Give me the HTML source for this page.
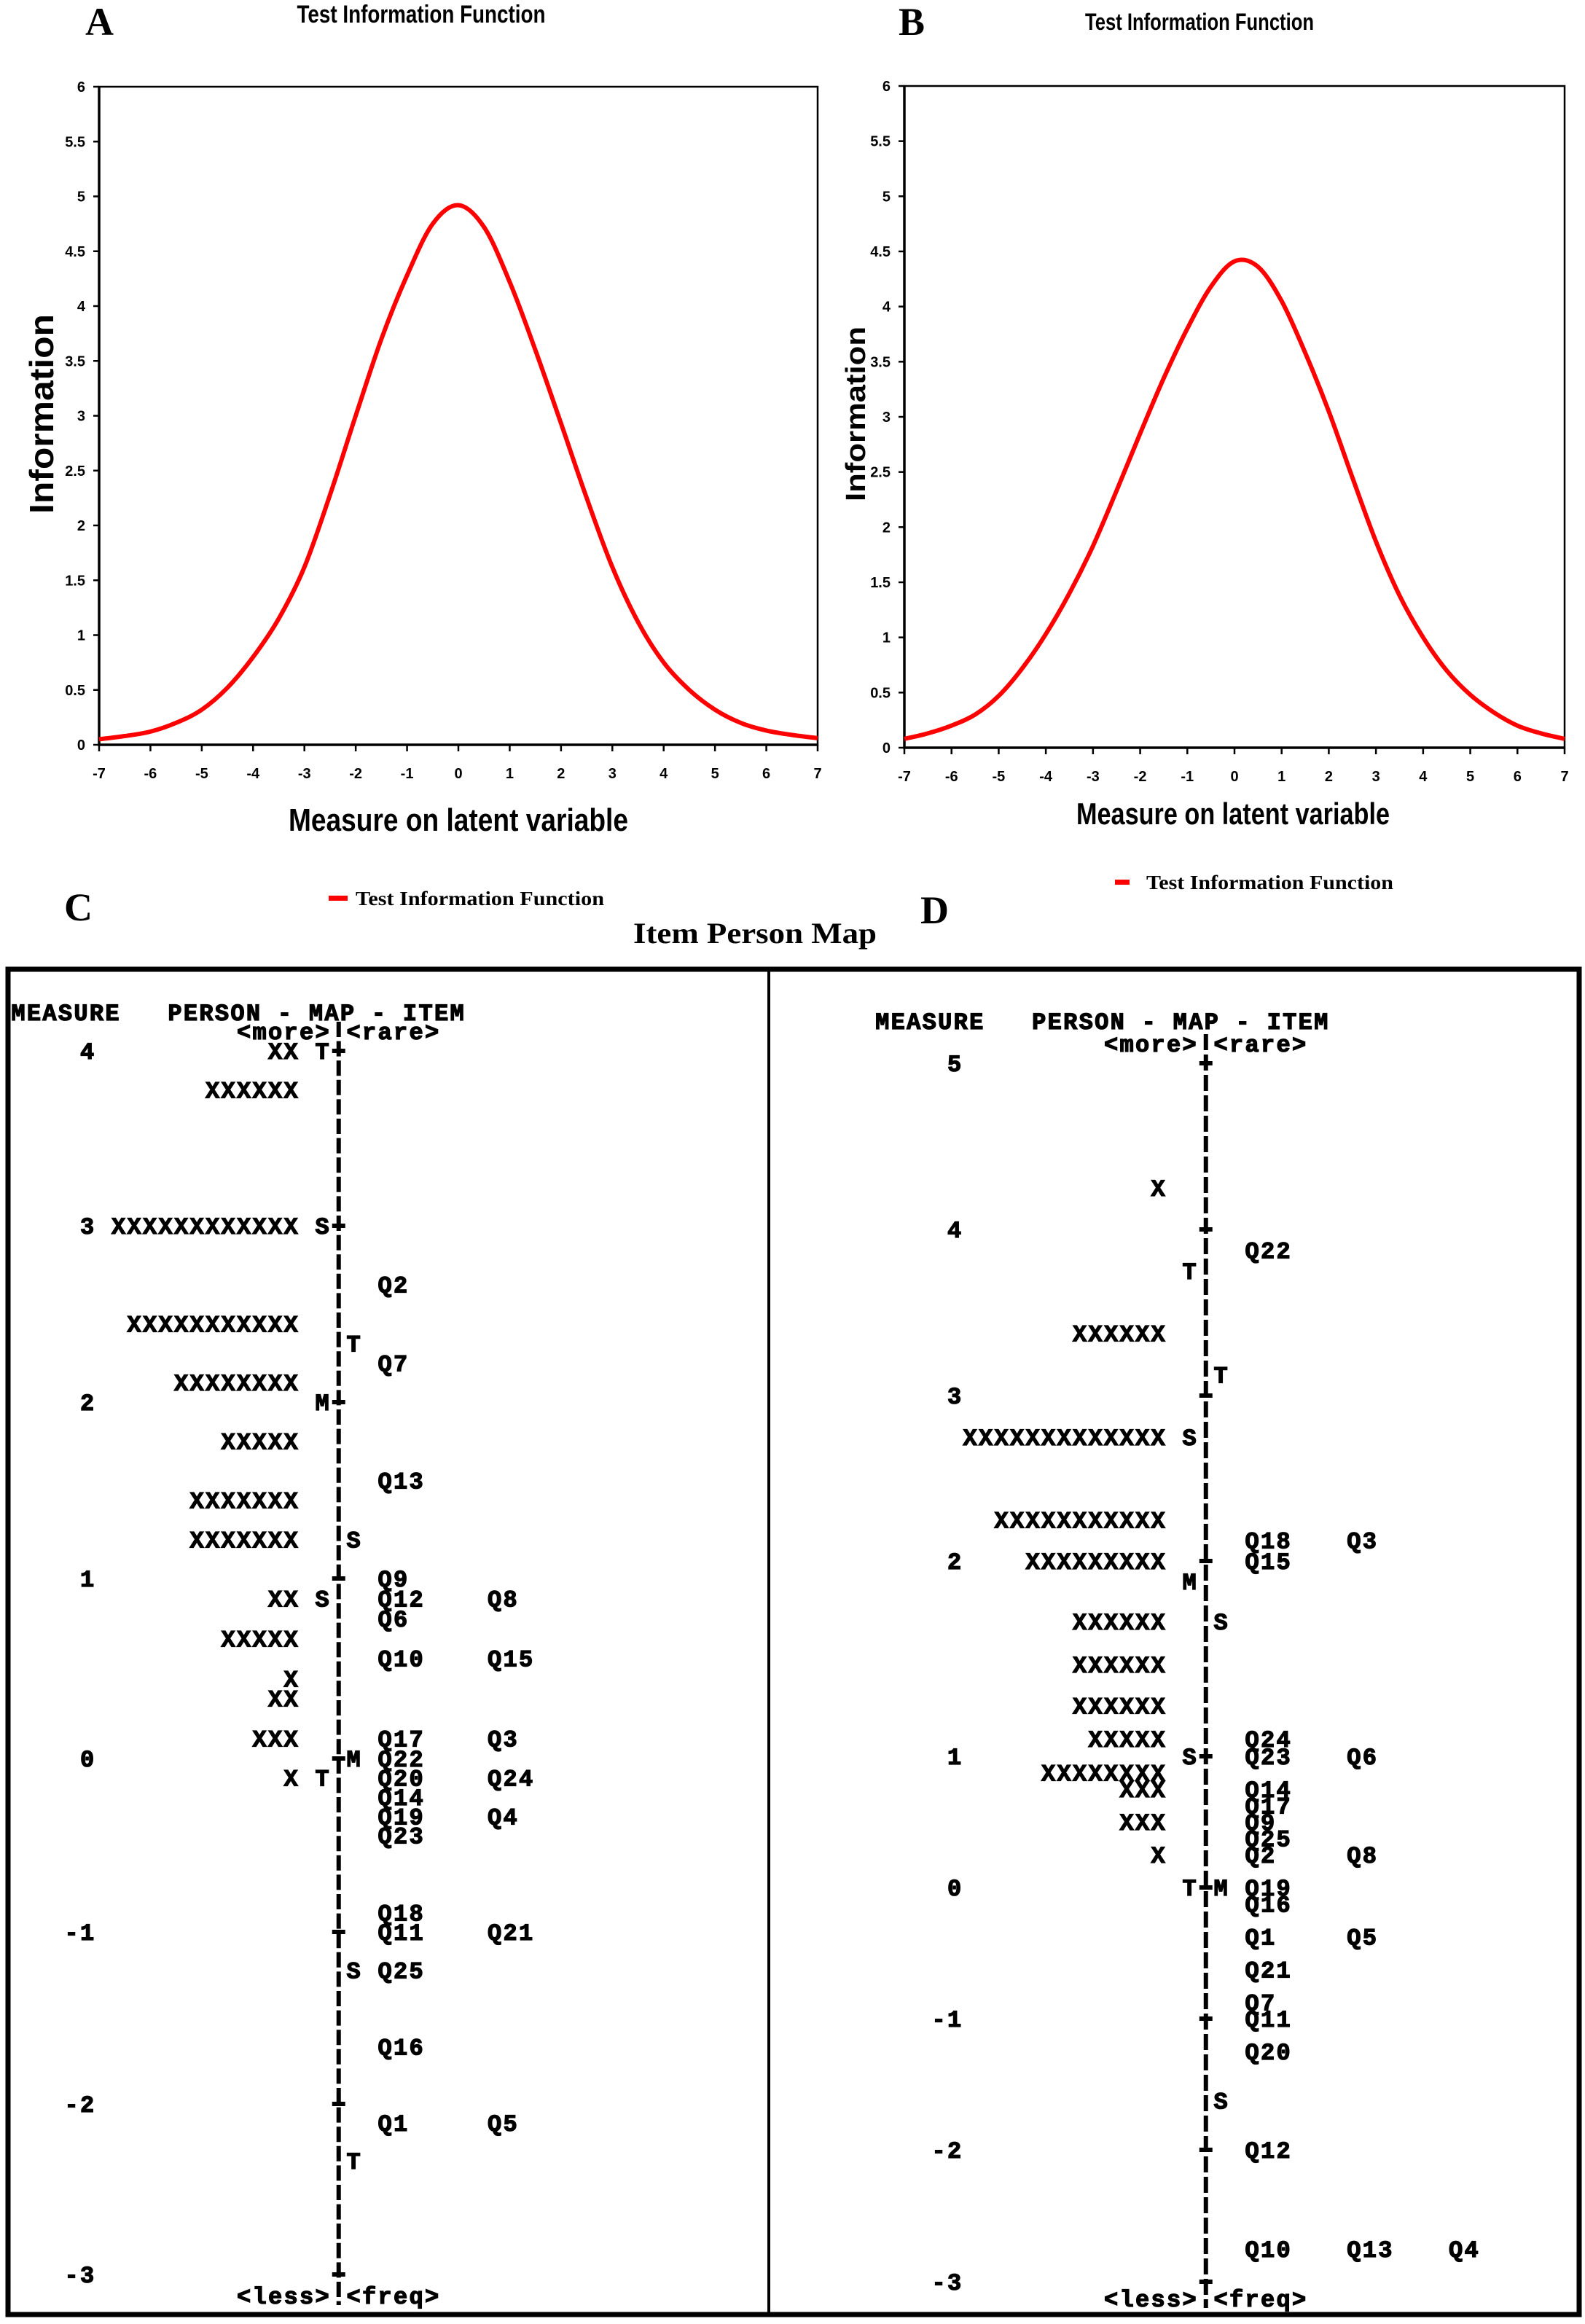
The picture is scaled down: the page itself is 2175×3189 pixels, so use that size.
<!DOCTYPE html>
<html><head><meta charset="utf-8"><title>Test Information Function and Item Person Map</title>
<style>
html,body{margin:0;padding:0;background:#fff;}
svg{display:block;}
.tick{font-family:"Liberation Sans",Arial,sans-serif;font-weight:bold;font-size:20px;fill:#000;}
.ttl{font-family:"Liberation Sans",Arial,sans-serif;font-weight:bold;fill:#000;}
.serif{font-family:"Liberation Serif","Times New Roman",serif;font-weight:bold;fill:#000;}
.mono{font-family:"Liberation Mono","DejaVu Sans Mono",monospace;font-weight:bold;font-size:32px;fill:#000;stroke:#000;stroke-width:1.3px;letter-spacing:2.3px;}
</style></head>
<body>
<svg id="root" width="2175" height="3189" viewBox="0 0 2175 3189" xmlns="http://www.w3.org/2000/svg">
  <rect x="0" y="0" width="2175" height="3189" fill="#fff"/>
  <text class="serif" x="117" y="48" font-size="54">A</text>
  <text class="ttl" x="578" y="31" font-size="34" text-anchor="middle" textLength="341" lengthAdjust="spacingAndGlyphs">Test Information Function</text>
  <text class="serif" x="1233" y="48" font-size="54">B</text>
  <text class="ttl" x="1646" y="41" font-size="32" text-anchor="middle" textLength="314" lengthAdjust="spacingAndGlyphs">Test Information Function</text>

  <g id="chartA"></g>
  <g id="chartB"></g>

  <text class="ttl" transform="translate(73,568) rotate(-90)" font-size="46" text-anchor="middle" textLength="274" lengthAdjust="spacingAndGlyphs">Information</text>
  <text class="ttl" transform="translate(1187,568) rotate(-90)" font-size="38" text-anchor="middle" textLength="240" lengthAdjust="spacingAndGlyphs">Information</text>
  <text class="ttl" x="629" y="1140" font-size="44" text-anchor="middle" textLength="466" lengthAdjust="spacingAndGlyphs">Measure on latent variable</text>
  <text class="ttl" x="1692" y="1131" font-size="42" text-anchor="middle" textLength="430" lengthAdjust="spacingAndGlyphs">Measure on latent variable</text>

  <g>
    <rect x="451" y="1229" width="26" height="7" fill="#ff0000"/>
    <text class="serif" x="488" y="1242" font-size="27" textLength="341" lengthAdjust="spacingAndGlyphs">Test Information Function</text>
  </g>
  <g>
    <rect x="1530" y="1207" width="20" height="7" fill="#ff0000"/>
    <text class="serif" x="1573" y="1220" font-size="27" textLength="339" lengthAdjust="spacingAndGlyphs">Test Information Function</text>
  </g>

  <text class="serif" x="88" y="1263" font-size="54">C</text>
  <text class="serif" x="1263" y="1267" font-size="54">D</text>
  <text class="serif" x="1036" y="1294" font-size="40" text-anchor="middle" textLength="334" lengthAdjust="spacingAndGlyphs">Item Person Map</text>

  <rect x="11" y="1330" width="2156" height="1846" fill="none" stroke="#000" stroke-width="7"/>
  <line x1="1055" y1="1330" x2="1055" y2="3176" stroke="#000" stroke-width="4"/>

  <g id="mapC"></g>
  <g id="mapD"></g>
</svg>

<script>
const xTicks = [-7,-6,-5,-4,-3,-2,-1,0,1,2,3,4,5,6,7];
const yTicks = [0,0.5,1,1.5,2,2.5,3,3.5,4,4.5,5,5.5,6];
const yTickLabels = ["0","0.5","1","1.5","2","2.5","3","3.5","4","4.5","5","5.5","6"];
const thetaA = [-7,-6.5,-6,-5.5,-5,-4.5,-4,-3.5,-3,-2.5,-2,-1.5,-1,-0.5,0,0.5,1,1.5,2,2.5,3,3.5,4,4.5,5,5.5,6,6.5,7];
const infoA = [0.05,0.08,0.12,0.2,0.32,0.52,0.8,1.15,1.62,2.28,3.0,3.7,4.28,4.75,4.92,4.72,4.22,3.6,2.93,2.25,1.62,1.12,0.75,0.5,0.32,0.2,0.13,0.09,0.06];
const thetaB = [-7,-6.5,-6,-5.5,-5,-4.5,-4,-3.5,-3,-2.5,-2,-1.5,-1,-0.5,0,0.5,1,1.5,2,2.5,3,3.5,4,4.5,5,5.5,6,6.5,7];
const infoB = [0.08,0.13,0.2,0.3,0.47,0.72,1.03,1.4,1.83,2.33,2.85,3.35,3.8,4.18,4.41,4.36,4.05,3.58,3.05,2.45,1.87,1.38,1.0,0.7,0.48,0.32,0.2,0.13,0.08];

const NS = "http://www.w3.org/2000/svg";
function mk(tag, attrs, parent){
  const e = document.createElementNS(NS, tag);
  for (const k in attrs) e.setAttribute(k, attrs[k]);
  parent.appendChild(e);
  return e;
}

function drawChart(g, box, xs, ys, key){
  const xS = v => box.L + (v + 7) / 14 * (box.R - box.L);
  const yS = v => box.B - v / 6 * (box.B - box.T);
  const fr = mk('rect', {x:box.L, y:box.T, width:box.R-box.L, height:box.B-box.T, fill:'none', stroke:'#000', 'stroke-width':2.5}, g);
  
  
  const axL = mk('path', {d:'M'+box.L+' '+box.T+' V'+box.B+' H'+box.R, fill:'none', stroke:'#000', 'stroke-width':3.5}, g);
  
  
  yTicks.forEach((t, i) => {
    const y = yS(t);
    const tk = mk('line', {x1:box.L-8, y1:y, x2:box.L, y2:y, stroke:'#000', 'stroke-width':2.5}, g);
    
    
    const lb = mk('text', {x:box.L-19, y:y+7, 'text-anchor':'end', class:'tick'}, g);
    lb.textContent = yTickLabels[i];
    
    
  });
  xTicks.forEach(t => {
    const x = xS(t);
    const tk = mk('line', {x1:x, y1:box.B, x2:x, y2:box.B+9, stroke:'#000', 'stroke-width':2.5}, g);
    
    
    const lb = mk('text', {x:x, y:box.B+46, 'text-anchor':'middle', class:'tick'}, g);
    lb.textContent = String(t);
    
    
  });
  const P = xs.map((v, i) => [xS(v), yS(ys[i])]);
  let d = 'M' + P[0][0].toFixed(1) + ' ' + P[0][1].toFixed(1);
  for (let i = 0; i < P.length - 1; i++){
    const p0 = P[Math.max(0, i-1)], p1 = P[i], p2 = P[i+1], p3 = P[Math.min(P.length-1, i+2)];
    const c1 = [p1[0] + (p2[0]-p0[0])/6, p1[1] + (p2[1]-p0[1])/6];
    const c2 = [p2[0] - (p3[0]-p1[0])/6, p2[1] - (p3[1]-p1[1])/6];
    d += ' C' + c1[0].toFixed(1) + ' ' + c1[1].toFixed(1) + ' ' + c2[0].toFixed(1) + ' ' + c2[1].toFixed(1) + ' ' + p2[0].toFixed(1) + ' ' + p2[1].toFixed(1);
  }
  const path = mk('path', {d:d, fill:'none', stroke:'#ff0000', 'stroke-width':6, 'stroke-linejoin':'round'}, g);
  
  
}

drawChart(document.getElementById('chartA'), {L:136, R:1122, T:119, B:1022}, thetaA, infoA, 'chart-a');
drawChart(document.getElementById('chartB'), {L:1241, R:2147, T:118, B:1026}, thetaB, infoB, 'chart-b');

const cAnchorM = [4,3,2,1,0,-1,-2,-3];
const cAnchorY = [1442,1682,1924,2166,2413,2651,2887,3121];
const cMeasure = [4, 3.778, 3, 2.667, 2.444, 2.333, 2.222, 2.111, 2, 1.778, 1.556, 1.444, 1.222, 1, 0.889, 0.778, 0.667, 0.556, 0.444, 0.333, 0.111, 0, -0.111, -0.222, -0.333, -0.444, -0.889, -1, -1.222, -1.667, -2, -2.111, -2.333, -3];
const cNum     = ['4','', '3','', '','', '', '', '2','', '', '', '', '1','', '', '', '', '', '', '', '0','', '', '', '', '', '-1','', '', '-2','', '', '-3'];
const cPersons = [2, 6, 12, 0, 11, 0, 0, 8, 0, 5, 0, 7, 7, 0, 2, 0, 5, 0, 1, 2, 3, 0, 1, 0, 0, 0, 0, 0, 0, 0, 0, 0, 0, 0];
const cLeft    = ['T','', 'S','', '','', '', '', 'M','', '', '', '', '','S', '', '', '', '', '', '', '','T', '', '', '', '', '','', '', '', '', '', ''];
const cRight   = ['', '', '', '', '','T', '', '', '', '', '', '', 'S','', '', '', '', '', '', '', '', 'M','', '', '', '', '', '','S', '', '', '', 'T', ''];
const cItems   = [[],[],[],['Q2'],[],[],['Q7'],[],[],[],['Q13'],[],[],['Q9'],['Q12','Q8'],['Q6'],[],['Q10','Q15'],[],[],['Q17','Q3'],['Q22'],['Q20','Q24'],['Q14'],['Q19','Q4'],['Q23'],['Q18'],['Q11','Q21'],['Q25'],['Q16'],[],['Q1','Q5'],[],[]];

const dAnchorM = [5,4,3,2,1,0,-1,-2,-3];
const dAnchorY = [1459,1687,1915,2142,2410,2590,2770,2950,3131];
const dMeasure = [5, 4.25, 4, 3.875, 3.75, 3.375, 3.125, 3, 2.75, 2.25, 2.125, 2, 1.896, 1.69, 1.47, 1.26, 1.09, 1, 0.875, 0.75, 0.625, 0.5, 0.375, 0.25, 0, -0.125, -0.375, -0.625, -0.875, -1, -1.25, -1.625, -2, -2.75, -3];
const dNum     = ['5','', '4','', '', '', '', '3','', '', '', '2','', '', '', '', '', '1','', '', '', '', '', '', '0','', '', '', '', '-1','', '', '-2','', '-3'];
const dPersons = [0, 1, 0, 0, 0, 6, 0, 0, 13, 11, 0, 9, 0, 6, 6, 6, 5, 0, 8, 3, 0, 3, 0, 1, 0, 0, 0, 0, 0, 0, 0, 0, 0, 0, 0];
const dLeft    = ['', '', '', '', 'T','', '', '', 'S','', '', '', 'M','', '', '', '', 'S','', '', '', '', '', '', 'T','', '', '', '', '', '', '', '', '', ''];
const dRight   = ['', '', '', '', '', '', 'T','', '', '', '', '', '', 'S','', '', '', '', '', '', '', '', '', '', 'M','', '', '', '', '', '', 'S','', '', ''];
const dItems   = [[],[],[],['Q22'],[],[],[],[],[],[],['Q18','Q3'],['Q15'],[],[],[],[],['Q24'],['Q23','Q6'],[],['Q14'],['Q17'],['Q9'],['Q25'],['Q2','Q8'],['Q19'],['Q16'],['Q1','Q5'],['Q21'],['Q7'],['Q11'],['Q20'],[],['Q12'],['Q10','Q13','Q4'],[]];

function interp(m, am, ay){
  for (let i = 0; i < am.length - 1; i++){
    if (m <= am[i] && m >= am[i+1]) return ay[i] + (am[i]-m)/(am[i]-am[i+1]) * (ay[i+1]-ay[i]);
  }
  if (m > am[0]) return ay[0] - (m-am[0])/(am[0]-am[1]) * (ay[1]-ay[0]);
  const n = am.length - 1;
  return ay[n] + (am[n]-m)/(am[n-1]-am[n]) * (ay[n]-ay[n-1]);
}

function drawMap(g, cfg, key){
  const P = cfg.pitch, x0 = cfg.x0;
  const cx = c => x0 + c * P;
  const ax = x0 + 20.5 * P;
  function txt(str, col, y, name){
    const t = mk('text', {x:cx(col), y:y+11, class:'mono'}, g);
    t.textContent = str;
    
    
    return t;
  }
  txt('MEASURE', cfg.headCol, cfg.headY, key + '-measure-header');
  txt('PERSON - MAP - ITEM', cfg.headCol + 10, cfg.headY, key + '-map-header');
  txt('<more>', 14, cfg.moreY, key + '-more-label');
  txt('<rare>', 21, cfg.moreY, key + '-rare-label');
  txt('<less>', 14, cfg.lessY, key + '-less-label');
  txt('<freq>', 21, cfg.lessY, key + '-freq-label');
  const axl = mk('line', {x1:ax, y1:cfg.moreY-13, x2:ax, y2:cfg.lessY+13, stroke:'#000', 'stroke-width':6, 'stroke-dasharray':cfg.dash}, g);
  
  
  cfg.measure.forEach((m, i) => {
    const y = interp(m, cfg.am, cfg.ay);
    if (cfg.num[i]) txt(cfg.num[i], 5 - cfg.num[i].length, y, key + '-measure-label');
    if (cfg.persons[i] > 0) txt('X'.repeat(cfg.persons[i]), 18 - cfg.persons[i], y, key + '-person-row');
    if (cfg.left[i]) txt(cfg.left[i], 19, y, key + '-person-marker');
    if (cfg.num[i]){
      const h = mk('rect', {x:ax-9, y:y-3, width:18, height:6, fill:'#000'}, g);
      
      
    }
    if (cfg.right[i]) txt(cfg.right[i], 21, y, key + '-item-marker');
    cfg.items[i].forEach((q, j) => txt(q, cfg.itemCols[j], y, key + '-item-label'));
  });
}

drawMap(document.getElementById('mapC'), {
  x0:24, pitch:21.5, headCol:-0.4, headY:1389, moreY:1415, lessY:3150, dash:'21 5.6',
  am:cAnchorM, ay:cAnchorY, measure:cMeasure, num:cNum, persons:cPersons, left:cLeft, right:cRight, items:cItems, itemCols:[23,30,37]
}, 'map-c');

drawMap(document.getElementById('mapD'), {
  x0:1214, pitch:21.5, headCol:-0.6, headY:1401, moreY:1432, lessY:3154, dash:'22 6',
  am:dAnchorM, ay:dAnchorY, measure:dMeasure, num:dNum, persons:dPersons, left:dLeft, right:dRight, items:dItems, itemCols:[23,29.5,36]
}, 'map-d');
</script>
</body></html>
